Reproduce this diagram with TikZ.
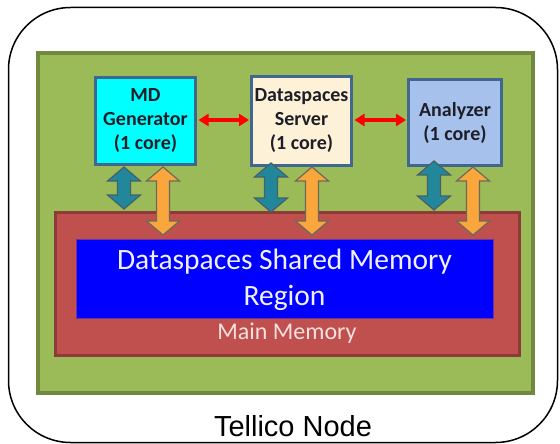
\documentclass[tikz,border=0pt]{standalone}
\usepackage{fontspec}
\setmainfont{Carlito}
\newfontfamily\arialf{Liberation Sans}
\usetikzlibrary{arrows.meta}
\definecolor{grfill}{HTML}{9BBB59}
\definecolor{grline}{HTML}{71893F}
\definecolor{rdfill}{HTML}{C0504D}
\definecolor{rdline}{HTML}{8C3B39}
\definecolor{blfill}{HTML}{0000FF}
\definecolor{blline}{HTML}{7030A0}
\definecolor{boxline}{HTML}{41668F}
\definecolor{cyanfill}{HTML}{00FFFF}
\definecolor{creamfill}{HTML}{FDF1D8}
\definecolor{anfill}{HTML}{A6C2EC}
\definecolor{tealfill}{HTML}{23879B}
\definecolor{tealline}{HTML}{46606A}
\definecolor{orfill}{HTML}{F9A63C}
\definecolor{orline}{HTML}{6E6A5A}
\definecolor{boxtext}{HTML}{1E1E28}
\definecolor{memtext}{HTML}{F6E0E0}
\newcommand\blockarr[5]{%
  \draw[draw=#5, fill=#4, line width=1.2pt, line join=miter]
    (#1,#2) -- (#1+16.5,#2+14) -- (#1+6.5,#2+14) -- (#1+6.5,#3-14) -- (#1+16.5,#3-14)
    -- (#1,#3) -- (#1-16.5,#3-14) -- (#1-6.5,#3-14) -- (#1-6.5,#2+14) -- (#1-16.5,#2+14) -- cycle;}
\begin{document}
\begin{tikzpicture}[x=1pt,y=-1pt,
  corebox/.style={draw=boxline, line width=3pt, inner sep=0pt, align=center,
    text=boxtext, font=\bfseries\fontsize{20}{24}\selectfont},
  redarr/.style={draw=red, line width=3.2pt,
    {Triangle[length=10pt,width=12pt]}-{Triangle[length=10pt,width=12pt]}}]
\useasboundingbox (0,0) rectangle (560,444);
% outer node frame
\draw[line width=1.5pt, rounded corners=62pt] (8.5,7.5) rectangle (557.5,442.5);
% green area
\draw[draw=grline, fill=grfill, line width=4pt] (38,53) rectangle (533,393);
% main memory
\draw[draw=rdline, fill=rdfill, line width=3pt] (55.5,212.5) rectangle (519.5,355.5);
\draw[draw=blline, fill=blfill, line width=0.8pt] (76,239) rectangle (493,318);
\node (shm) at (284.5,280) [align=center, text=white!94!blue,
  font=\fontsize{29.5}{36}\selectfont] {Dataspaces Shared Memory\\Region};
\node (mm) at (287,333) [text=memtext, font=\fontsize{24}{28}\selectfont] {Main Memory};
% cores
\node (md) at (145.5,121) [corebox, fill=cyanfill, minimum width=100pt, minimum height=87pt]
  {MD\\Generator\\(1 core)};
\node (srv) at (301.5,121) [corebox, fill=creamfill, minimum width=100pt, minimum height=89pt]
  {Dataspaces\\Server\\(1 core)};
\node (an) at (455,122.5) [corebox, fill=anfill, minimum width=93pt, minimum height=86pt]
  {Analyzer\\(1 core)};
% red arrows
\draw[redarr, shorten <=1.5pt, shorten >=1pt] (md.east |- 0,120) -- (srv.west |- 0,120);
\draw[redarr, shorten <=1.5pt, shorten >=1pt] (srv.east |- 0,120) -- (an.west |- 0,120);
% block arrows
\blockarr{124}{167}{209}{tealfill}{tealline}
\blockarr{163}{167}{235}{orfill}{orline}
\blockarr{271}{163}{212}{tealfill}{tealline}
\blockarr{312}{167}{235}{orfill}{orline}
\blockarr{434}{161}{210}{tealfill}{tealline}
\blockarr{473}{167}{235}{orfill}{orline}
% label
\node (tn) at (293,426) [font=\arialf\fontsize{29}{34}\selectfont] {Tellico Node};
\end{tikzpicture}
\end{document}
